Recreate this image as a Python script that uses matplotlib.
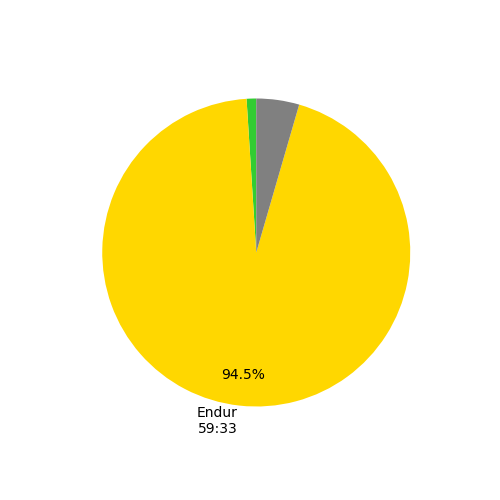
import matplotlib
matplotlib.use("Agg")
import matplotlib.pyplot as plt

# time in zones (seconds)
zones = ['Recovery', 'Endur', 'Tempo']
seconds = [38, 3573, 170]
colors = ['limegreen', 'gold', 'grey']


def fmt_time(s):
    return f"{s // 60}:{s % 60:02d}"


total = sum(seconds)
labels = [f"{z}\n{fmt_time(s)}" if s / total > 0.05 else '' for z, s in zip(zones, seconds)]

fig, ax = plt.subplots(figsize=(5, 5), dpi=100)
ax.pie(seconds, labels=labels, colors=colors, startangle=90,
       autopct=lambda p: f"{p:.1f}%" if p > 5 else '', pctdistance=0.8)
fig.savefig('out.png')
